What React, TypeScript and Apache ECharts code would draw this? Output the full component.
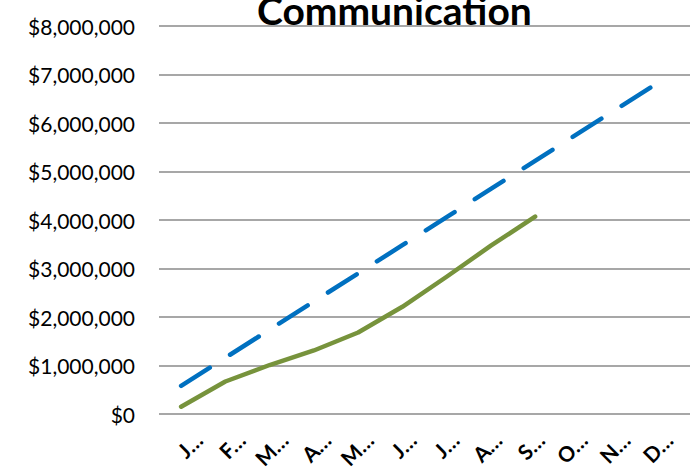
import React, { useEffect, useRef } from "react";
import * as echarts from "echarts";

// Month tick labels as shown on the axis (truncated names)
const monthLabels = ["J…", "F…", "M…", "A…", "M…", "J…", "J…", "A…", "S…", "O…", "N…", "D…"];

// Cumulative budget (straight-line plan)
const budget = [580000, 1160000, 1740000, 2320000, 2900000, 3480000, 4060000, 4640000, 5220000, 5800000, 6380000, 6960000];

// Cumulative actual spend, reported through September
const actual = [150000, 670000, 1010000, 1310000, 1680000, 2210000, 2830000, 3470000, 4070000, null, null, null];

const yTicks = { min: 0, max: 8000000, interval: 1000000 };

const FONT = "Lato, 'Noto Sans', sans-serif";

export default function App() {
  const ref = useRef<HTMLDivElement>(null);

  useEffect(() => {
    document.body.style.margin = "0";
    if (!ref.current) return;
    const chart = echarts.init(ref.current, null, { renderer: "svg" });
    chart.setOption({
      animation: false,
      backgroundColor: "#ffffff",
      title: {
        text: "Communication",
        left: 257,
        top: -10,
        padding: 0,
        textStyle: { fontFamily: FONT, fontWeight: "bold", fontSize: 39, color: "#000000" },
      },
      grid: [
        { left: 159, right: 0, top: 26, bottom: 58, containLabel: false },
        { left: 177, width: 531, top: 0, height: 430, containLabel: false },
      ],
      xAxis: [
        {
          type: "category",
          gridIndex: 0,
          data: monthLabels,
          boundaryGap: true,
          axisLine: { show: false },
          axisTick: { show: false },
          axisLabel: { show: false },
        },
        {
          type: "category",
          gridIndex: 1,
          data: monthLabels,
          boundaryGap: true,
          axisLine: { show: false },
          axisTick: { show: false },
          axisLabel: {
            show: true,
            interval: 0,
            rotate: 45,
            margin: 6,
            fontFamily: FONT,
            fontWeight: "bold",
            fontSize: 21,
            color: "#000000",
          },
        },
      ],
      yAxis: [
        {
          type: "value",
          gridIndex: 0,
          min: yTicks.min,
          max: yTicks.max,
          interval: yTicks.interval,
          axisLine: { show: false },
          axisTick: { show: false },
          axisLabel: {
            margin: 24,
            fontFamily: FONT,
            fontSize: 21,
            color: "#000000",
            formatter: (v: number) => "$" + v.toLocaleString("en-US"),
          },
          splitLine: { show: true, lineStyle: { color: "#8a8a8a", width: 1.6 } },
        },
        {
          type: "value",
          gridIndex: 1,
          show: false,
          splitLine: { show: false },
        },
      ],
      series: [
        {
          name: "Budget",
          type: "line",
          xAxisIndex: 0,
          yAxisIndex: 0,
          data: budget,
          symbol: "none",
          smooth: false,
          lineStyle: { color: "#0070C0", width: 4.5, type: [34, 24], cap: "round", join: "round" },
        },
        {
          name: "Actual",
          type: "line",
          xAxisIndex: 0,
          yAxisIndex: 0,
          data: actual,
          symbol: "none",
          smooth: false,
          connectNulls: false,
          lineStyle: { color: "#77933C", width: 4.5, cap: "round", join: "round" },
        },
      ],
    });
    return () => chart.dispose();
  }, []);

  return <div ref={ref} style={{ width: 690, height: 472 }} />;
}
